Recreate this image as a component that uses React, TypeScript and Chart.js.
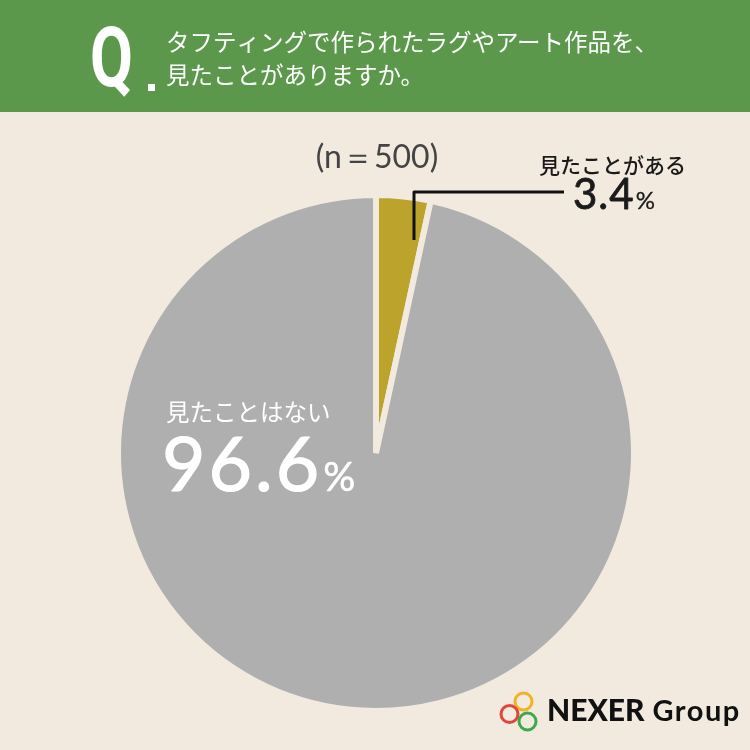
import React, { useEffect, useRef } from "react";
import { Chart, registerables } from "chart.js";

Chart.register(...registerables);

const categories = ["見たことがある", "見たことはない"];
const values = [3.4, 96.6];
const sliceColors = ["#bca32c", "#afafaf"];
const sampleSize = 500;
const questionLines = ["タフティングで作られたラグやアート作品を、", "見たことがありますか。"];

const BG = "#f2eadf";
const GREEN = "#5c984b";
const JP = '"Noto Sans CJK JP", "Noto Sans", sans-serif';
const NUM = 'Lato, "Noto Sans", sans-serif';

function boldText(ctx: any, text: string, x: number, y: number, w: number) {
  if (w > 0) {
    ctx.lineWidth = w;
    ctx.lineJoin = "round";
    ctx.strokeStyle = ctx.fillStyle;
    ctx.strokeText(text, x, y);
  }
  ctx.fillText(text, x, y);
}

const decorPlugin = {
  id: "decor",
  beforeDraw(chart: any) {
    const ctx = chart.ctx;
    ctx.save();
    ctx.fillStyle = BG;
    ctx.fillRect(0, 0, chart.width, chart.height);
    ctx.restore();
  },
  afterDraw(chart: any) {
    const ctx: any = chart.ctx;
    ctx.save();
    // header band
    ctx.fillStyle = GREEN;
    ctx.fillRect(0, 0, chart.width, 112);
    // Q
    ctx.fillStyle = "#ffffff";
    ctx.save();
    ctx.translate(90, 86);
    ctx.scale(0.76, 1.02);
    ctx.font = `700 82px Roboto, sans-serif`;
    ctx.textBaseline = "alphabetic";
    ctx.fillText("Q", 0, 0);
    ctx.restore();
    ctx.fillRect(148, 84, 7, 7);
    // question text
    ctx.font = `400 23.5px ${JP}`;
    ctx.textBaseline = "middle";
    ctx.textAlign = "left";
    ctx.fillText(questionLines[0], 166, 42);
    ctx.fillText(questionLines[1], 166, 75);

    // n=
    ctx.fillStyle = "#444444";
    ctx.font = `400 32px ${NUM}`;
    ctx.textAlign = "center";
    ctx.textBaseline = "middle";
    boldText(ctx, `(n＝${sampleSize})`, 377, 158, 0);

    // label for small slice
    ctx.fillStyle = "#1a1a1a";
    ctx.font = `500 21px ${JP}`;
    ctx.textAlign = "left";
    ctx.fillText(categories[0], 539, 165);
    ctx.textBaseline = "alphabetic";
    ctx.font = `400 42px ${NUM}`;
    ctx.letterSpacing = "1px";
    const t1 = `${values[0]}`;
    boldText(ctx, t1, 573, 209, 0.8);
    const w1 = ctx.measureText(t1).width;
    ctx.letterSpacing = "0px";
    ctx.font = `400 24px ${NUM}`;
    boldText(ctx, "%", 573 + w1 + 1, 209, 0.3);

    // leader line
    ctx.strokeStyle = "#111111";
    ctx.lineWidth = 3;
    ctx.beginPath();
    ctx.moveTo(414, 240);
    ctx.lineTo(414, 192);
    ctx.lineTo(564, 192);
    ctx.stroke();

    // label for big slice
    ctx.fillStyle = "#ffffff";
    ctx.font = `400 23.5px ${JP}`;
    ctx.textBaseline = "middle";
    ctx.fillText(categories[1], 166, 412);
    ctx.textBaseline = "alphabetic";
    ctx.font = `400 75px ${NUM}`;
    ctx.letterSpacing = "3px";
    const t2 = `${values[1]}`;
    boldText(ctx, t2, 162, 491, 1.2);
    const w2 = ctx.measureText(t2).width;
    ctx.letterSpacing = "0px";
    ctx.font = `400 40px ${NUM}`;
    boldText(ctx, "%", 162 + w2 + 1, 491, 0.5);

    // logo rings
    const rings = [
      { x: 523.5, y: 701.5, c: "#f0b323" },
      { x: 509.5, y: 714, c: "#e0453a" },
      { x: 527.5, y: 721.5, c: "#3fa94a" },
    ];
    ctx.lineWidth = 3;
    for (const r of rings) {
      ctx.strokeStyle = r.c;
      ctx.beginPath();
      ctx.arc(r.x, r.y, 8.5, 0, Math.PI * 2);
      ctx.stroke();
    }
    ctx.fillStyle = "#111111";
    ctx.font = `900 30px ${NUM}`;
    ctx.textAlign = "left";
    ctx.fillText("NEXER", 547, 721);
    const wn = ctx.measureText("NEXER").width;
    ctx.font = `700 29px ${NUM}`;
    ctx.letterSpacing = "1.5px";
    ctx.fillText("Group", 547 + wn + 8, 721);
    ctx.letterSpacing = "0px";
    ctx.restore();
  },
};

export default function App() {
  const ref = useRef<HTMLCanvasElement | null>(null);
  useEffect(() => {
    if (!ref.current) return;
    const chart = new Chart(ref.current, {
      type: "pie",
      data: {
        labels: categories,
        datasets: [
          {
            data: values,
            backgroundColor: sliceColors,
            borderColor: BG,
            borderWidth: 6,
          },
        ],
      },
      options: {
        animation: false,
        responsive: false,
        devicePixelRatio: 1,
        layout: { padding: { left: 114, right: 112, top: 192, bottom: 36 } },
        plugins: {
          legend: { display: false },
          tooltip: { enabled: false },
        },
      },
      plugins: [decorPlugin],
    });
    return () => chart.destroy();
  }, []);
  return (
    <div style={{ position: "fixed", left: 0, top: 0, width: 750, height: 750 }}>
      <canvas ref={ref} width={750} height={750} style={{ width: 750, height: 750 }} />
    </div>
  );
}
